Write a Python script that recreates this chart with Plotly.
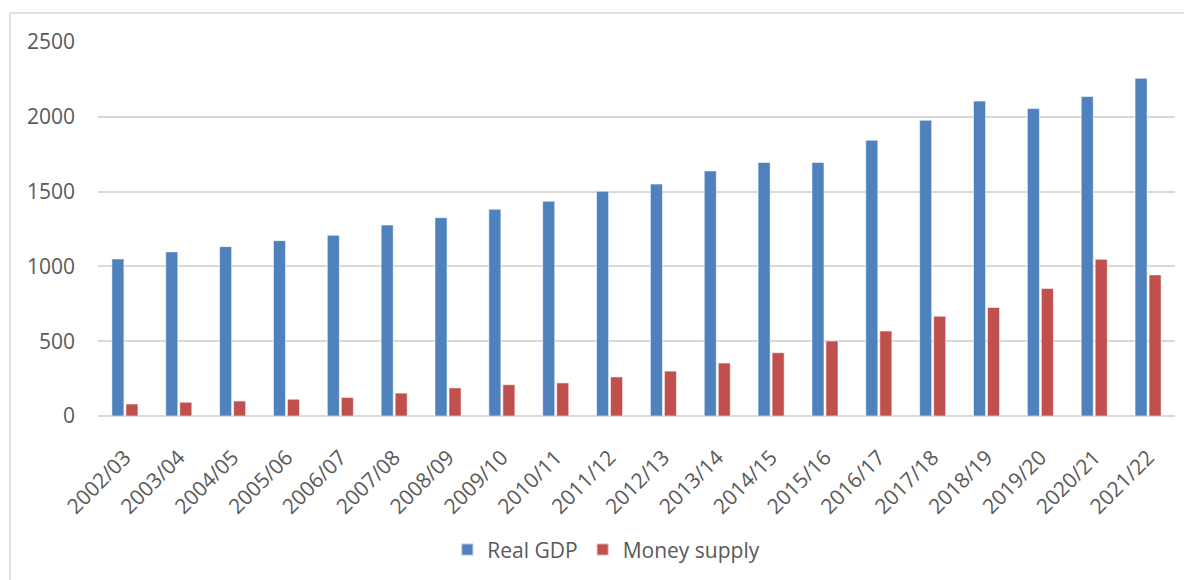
import plotly.graph_objects as go

categories = ["2002/03", "2003/04", "2004/05", "2005/06", "2006/07", "2007/08", "2008/09",
              "2009/10", "2010/11", "2011/12", "2012/13", "2013/14", "2014/15", "2015/16",
              "2016/17", "2017/18", "2018/19", "2019/20", "2020/21", "2021/22"]
real_gdp = [1050, 1097, 1132, 1172, 1208, 1276, 1326, 1382, 1436, 1502, 1550, 1638,
            1695, 1695, 1843, 1977, 2105, 2055, 2135, 2257]
money_supply = [80, 92, 100, 112, 124, 153, 188, 209, 221, 261, 300, 354, 423, 501,
                568, 667, 725, 853, 1047, 943]
y_ticks = [0, 500, 1000, 1500, 2000, 2500]

font_family = "Open Sans, Liberation Sans, sans-serif"
grey_text = "#595959"

fig = go.Figure()
fig.add_trace(go.Bar(x=categories, y=real_gdp, name="Real GDP",
                     marker=dict(color="#4f81bd", line=dict(color="rgba(255,255,255,0.55)", width=1))))
fig.add_trace(go.Bar(x=categories, y=money_supply, name="Money supply",
                     marker=dict(color="#c0504d", line=dict(color="rgba(255,255,255,0.55)", width=1))))

fig.update_layout(
    width=1192, height=580,
    margin=dict(l=90, r=25, t=34, b=172),
    paper_bgcolor="white", plot_bgcolor="white",
    barmode="group", bargap=0.48, bargroupgap=0.14,
    font=dict(family=font_family, size=21, color=grey_text),
    showlegend=True,
    legend=dict(orientation="h", x=0.472, xanchor="center", y=-0.358, yanchor="middle",
                font=dict(size=21, color=grey_text), itemsizing="constant",
                traceorder="normal", itemwidth=30),
    xaxis=dict(tickangle=-45, showgrid=False, showline=False, ticks="",
               tickfont=dict(size=21, color=grey_text), zeroline=False,
               ticklabelstandoff=24),
    yaxis=dict(range=[0, 2500], tickvals=y_ticks, showgrid=True, gridcolor="#d9d9d9",
               gridwidth=1.5, zeroline=True, zerolinecolor="#d9d9d9", zerolinewidth=1.5,
               showline=False, ticks="", ticklabelstandoff=22,
               tickfont=dict(size=21, color=grey_text)),
    shapes=[dict(type="rect", xref="paper", yref="paper",
                 x0=(10 - 98) / 1077, x1=1.1, y0=-0.6, y1=(416 - 13) / 374,
                 line=dict(color="#d9d9d9", width=1.5), fillcolor="rgba(0,0,0,0)", layer="below")],
)

fig.write_html("out.html")
